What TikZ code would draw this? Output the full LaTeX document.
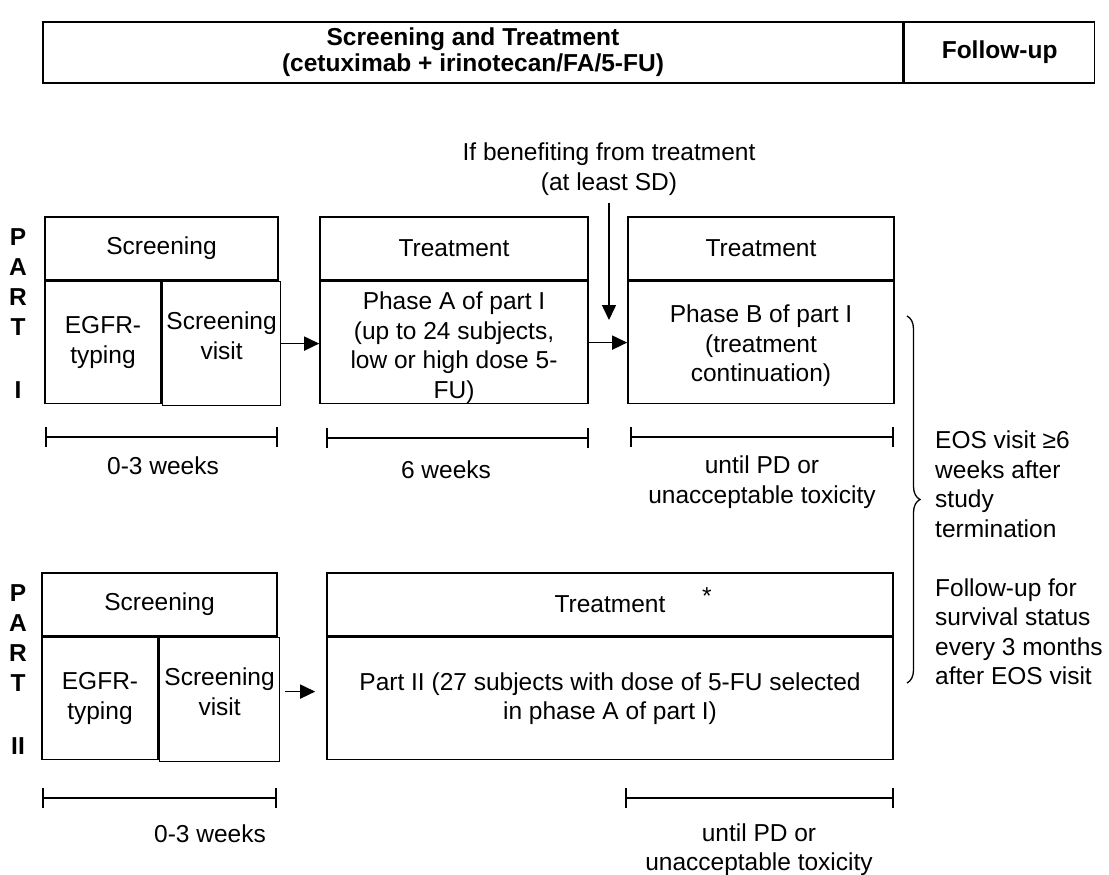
\documentclass[tikz,border=0pt]{standalone}
\usepackage{fontspec}
\setmainfont{Liberation Sans}
\usepackage{tikz}
\usetikzlibrary{positioning,arrows.meta,decorations.pathreplacing}

% struts to push the text of a box down or up
\newcommand{\padtop}[1]{\rule{0pt}{#1}}
\newcommand{\padbot}[1]{\rule[-#1]{0pt}{#1}}

\begin{document}
\begin{tikzpicture}[x=1pt, y=-1pt,
        box/.style={draw, line width=1.6pt, inner sep=0pt, align=center,
            font=\fontsize{24.5}{29.5}\selectfont},
        bbox/.style={box, font=\fontsize{24.5}{26}\selectfont\bfseries},
        txt/.style={inner sep=0pt, align=center, font=\fontsize{24.5}{29.5}\selectfont},
        partlbl/.style={inner sep=0pt, align=center, font=\fontsize{24.5}{30}\selectfont\bfseries},
        arr/.style={-{Triangle[length=15pt, width=14pt]}, line width=1.6pt},
        span/.style={{Bar[width=20pt]}-{Bar[width=20pt]}, line width=1.6pt}]
            \useasboundingbox (0,0) rectangle (1109,875);

            % Top bar
            \node[bbox, minimum width=860pt, minimum height=61pt] (stbar) at (473,52.5)
                {Screening and Treatment\\(cetuximab + irinotecan/FA/5-FU)};
            \node[bbox, minimum width=190pt, minimum height=61pt, right=0pt of stbar] (fubar) {Follow-up};

            % Part I
            \node[partlbl] (ptI) at (18,314) {P\\A\\R\\T\\[33pt]I};
            \node[box, minimum width=233pt, minimum height=63pt] (scrI) at (161.5,248.5) {Screening};
            \node[box, minimum width=116pt, minimum height=122pt, anchor=north west] (egfrI) at (scrI.south west) {EGFR-\\typing};
            \node[box, minimum width=118pt, minimum height=124pt, anchor=north west] (visI) at (egfrI.north east) {Screening\\visit\padbot{16pt}};
            \node[box, minimum width=268pt, minimum height=63pt] (trtA) at (454,248.5) {Treatment};
            \node[box, minimum width=268pt, minimum height=122pt, below=0pt of trtA] (phA)
                {\padtop{28pt}Phase A of part I\\(up to 24 subjects,\\low or high dose 5-\\FU)};
            \node[box, minimum width=266pt, minimum height=63pt] (trtB) at (761,248.5) {Treatment};
            \node[box, minimum width=266pt, minimum height=122pt, below=0pt of trtB] (phB)
                {\padtop{24pt}Phase B of part I\\(treatment\\continuation)};
            \node[txt] (benefit) at (609,169) {If benefiting from treatment\\(at least SD)};
            \coordinate (benefitend) at (609,320);

            % Part II
            \node[partlbl] (ptII) at (18,670) {P\\A\\R\\T\\[33pt]II};
            \node[box, minimum width=235pt, minimum height=63pt] (scrII) at (159.5,604.5) {Screening};
            \node[box, minimum width=116pt, minimum height=122pt, anchor=north west] (egfrII) at (scrII.south west) {EGFR-\\typing};
            \node[box, minimum width=120pt, minimum height=124pt, anchor=north west] (visII) at (egfrII.north east) {Screening\\visit\padbot{16pt}};
            \node[box, minimum width=566pt, minimum height=63pt] (trtII) at (610,604.5) {Treatment};
            \node[txt] (astII) at (707,596) {*};
            \node[box, minimum width=566pt, minimum height=122pt, below=0pt of trtII] (phII)
                {Part II (27 subjects with dose of 5-FU selected\\in phase A of part I)};

            % Edges
            \draw[arr] (visI.east) -- (visI.east -| phA.west);
            \draw[arr] (phA.east) -- (phB.west);
            \draw[arr, shorten <=8pt] (benefit) -- (benefitend);
            \draw[arr, shorten <=5pt, shorten >=11pt] ([yshift=8pt]visII.east) -- ([yshift=8pt]visII.east -| phII.west);

            % Durations
            \coordinate (spIa) at (45,437);
            \coordinate (spIb) at (278,437);
            \coordinate (spIc) at (326,438);
            \coordinate (spId) at (589,438);
            \coordinate (spIe) at (630,437);
            \coordinate (spIf) at (894,437);
            \draw[span] (spIa) -- (spIb);
            \draw[span] (spIc) -- (spId);
            \draw[span] (spIe) -- (spIf);
            \node[txt] (wkI) at (163,466) {0-3 weeks};
            \node[txt] (wkA) at (446,470) {6 weeks};
            \node[txt] (pdI) at (762,482) {until PD or\\unacceptable toxicity};

            \coordinate (spIIa) at (42,798);
            \coordinate (spIIb) at (277,798);
            \coordinate (spIIc) at (625,798);
            \coordinate (spIId) at (894,798);
            \draw[span] (spIIa) -- (spIIb);
            \draw[span] (spIIc) -- (spIId);
            \node[txt] (wkII) at (210,834) {0-3 weeks};
            \node[txt] (pdII) at (759,849.5) {until PD or\\unacceptable toxicity};

            % Follow-up
            \coordinate (brtop) at (907,316);
            \coordinate (brbot) at (907,683);
            \draw[decorate, decoration={brace, amplitude=13pt}, line width=1.3pt] (brtop) -- (brbot);
            \node[txt, align=left, anchor=north west, font=\fontsize{24.5}{29.5}\selectfont] (eos) at (935,431)
                {EOS visit ≥6\\weeks after\\study\\termination\\[29.5pt]Follow-up for\\survival status\\every 3 months\\after EOS visit};

        \end{tikzpicture}
\end{document}
